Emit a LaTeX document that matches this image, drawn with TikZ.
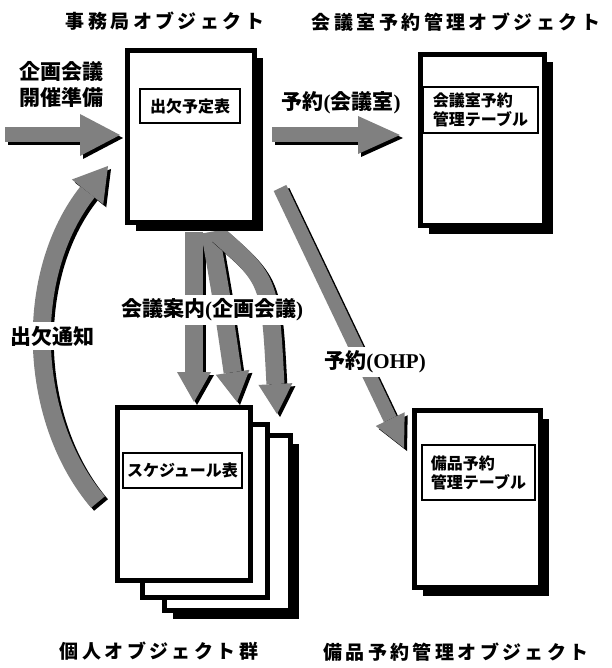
\documentclass[tikz,border=0pt]{standalone}
\usepackage{fontspec}
\newfontfamily\jp{Noto Sans CJK JP}
\newfontfamily\jpt{Noto Sans CJK JP}[LetterSpace=18]
\newfontfamily\lat{Liberation Serif}
\usetikzlibrary{arrows.meta,shadows}
\tikzset{
  doc/.style={draw=black, line width=5pt, fill=white, inner sep=0pt,
    general shadow={fill=black, shadow xshift=8pt, shadow yshift=-8pt}},
  docplain/.style={draw=black, line width=5pt, fill=white, inner sep=0pt},
  lbl/.style={draw=black, line width=1.8pt, fill=white, align=left, inner sep=2pt,
    font=\jp\bfseries\fontsize{16}{19}\selectfont},
  ttl/.style={font=\jpt\bfseries\fontsize{19}{22}\selectfont},
  txt/.style={font=\jp\bfseries\fontsize{21}{26}\selectfont, fill=white, inner sep=4pt},
  arrshadow/.style={draw=black, transform canvas={xshift=3pt, yshift=-3pt}},
  arrbody/.style={draw=black!50},
}
\newcommand\fatarrow[4]{%
  \draw[arrshadow, line width=#1, -{Triangle[length=#2,width=#3,line width=0pt]}] #4;
  \draw[arrbody, line width=#1, -{Triangle[length=#2,width=#3,line width=0pt]}] #4;}
\begin{document}
\begin{tikzpicture}[x=1pt,y=-1pt]
\path[use as bounding box] (0,0) rectangle (611,668);

% arrow end points
\coordinate (a1s) at (5,135);   \coordinate (a1e) at (120,135);
\coordinate (a2s) at (272,135); \coordinate (a2e) at (400,135);
\coordinate (a3s) at (280,188); \coordinate (a3e) at (404,448);
\coordinate (a4s) at (98,502);  \coordinate (a4e) at (108,166);
\coordinate (d1s) at (194,232); \coordinate (d1e) at (194,402);
\coordinate (d2s) at (210,232); \coordinate (d2e) at (237,402);
\coordinate (d3s) at (215,232); \coordinate (d3e) at (277,414);

% arrows
\fatarrow{15pt}{40pt}{42pt}{(a1s) -- (a1e)}
\fatarrow{15pt}{42pt}{38pt}{(a2s) -- (a2e)}
\fatarrow{14pt}{32pt}{32pt}{(a3s) -- (a3e)}
\fatarrow{18pt}{33pt}{40pt}{(a4s) .. controls (28,420) and (22,275) .. (a4e)}
\fatarrow{18pt}{30pt}{34pt}{(d1s) -- (d1e)}
\fatarrow{18pt}{30pt}{34pt}{(d2s) .. controls (222,300) .. (d2e)}
\fatarrow{18pt}{30pt}{34pt}{(d3s) .. controls (270,280) .. (d3e)}

% document boxes
\node[doc, minimum width=127pt, minimum height=172pt] (jim) at (191,136.5) {};
\node[doc, minimum width=124pt, minimum height=171pt] (kai) at (482.5,140) {};
\node[doc, minimum width=126pt, minimum height=177pt] (bih) at (477.5,499) {};
\node[doc, minimum width=126pt, minimum height=175pt] (s3) at (227.5,523) {};
\node[docplain, minimum width=125pt, minimum height=173pt] (s2) at (205,511) {};
\node[docplain, minimum width=133pt, minimum height=173pt] (s1) at (184,494) {};

% inner labels
\node[lbl, minimum width=100pt, minimum height=34pt] (lb1) at (190,106) {出欠予定表};
\node[lbl, minimum width=115pt, minimum height=46pt] (lb2) at (480.5,110) {会議室予約\\管理テーブル};
\node[lbl, minimum width=113pt, minimum height=55pt] (lb3) at (478.5,472.5) {備品予約\\管理テーブル};
\node[lbl, minimum width=119pt, minimum height=35pt] (lb4) at (182.5,470.5) {スケジュール表};

% titles
\node[ttl] (t1) at (165,21) {事務局オブジェクト};
\node[ttl] (t2) at (456,22) {会議室予約管理オブジェクト};
\node[ttl] (t3) at (159,651) {個人オブジェクト群};
\node[ttl] (t4) at (456,652) {備品予約管理オブジェクト};

% connector labels
\node[txt, align=center, fill=none] (l1) at (61,85) {企画会議\\開催準備};
\node[txt, fill=none] (l2) at (341,103) {予約{\lat\bfseries(}会議室{\lat\bfseries)}};
\node[txt] (l3) at (212,310) {会議案内{\lat\bfseries(}企画会議{\lat\bfseries)}};
\node[txt] (l4) at (52,336) {出欠通知};
\node[txt] (l5) at (375,362) {予約{\lat\bfseries(OHP)}};
\end{tikzpicture}
\end{document}
